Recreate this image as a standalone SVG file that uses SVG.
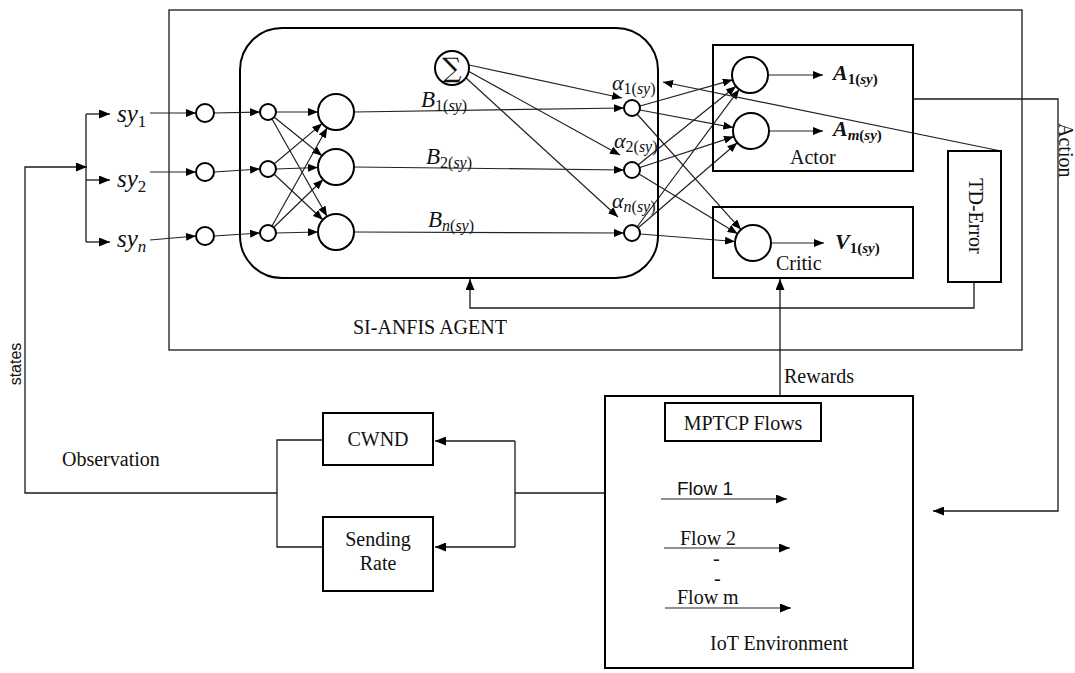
<svg xmlns="http://www.w3.org/2000/svg" width="1075" height="673" viewBox="0 0 1075 673">
<defs>
<marker id="ah" markerUnits="userSpaceOnUse" markerWidth="11" markerHeight="9" refX="11" refY="4.5" orient="auto"><path d="M0,0 L11,4.5 L0,9 z" fill="#000"/></marker>
<marker id="as" markerUnits="userSpaceOnUse" markerWidth="10" markerHeight="8" refX="10" refY="4" orient="auto"><path d="M0,0 L10,4 L0,8 z" fill="#000"/></marker>
<style>
.box{fill:#fff;stroke:#000;stroke-width:2}
.thin{fill:none;stroke:#1a1a1a;stroke-width:1.3}
.ln{fill:none;stroke:#222;stroke-width:1.2}
.nd{fill:#fff;stroke:#000;stroke-width:2}
.a{marker-end:url(#ah)}
.s{marker-end:url(#as)}
.t{font-family:"Liberation Serif",serif;font-size:20px;fill:#111}
.m{font-family:"Liberation Serif",serif;font-style:italic;fill:#111}
.mb{font-family:"Liberation Serif",serif;font-style:italic;font-weight:bold;fill:#111}
.sans{font-family:"Liberation Sans",sans-serif;fill:#111}
</style>
</defs>
<rect id="agent-frame" x="169" y="10" width="853" height="340" class="thin"/>
<g id="connectors">
<polyline class="thin a" points="277,493 25,493 25,167 87,167"/>
<line class="thin" x1="86" y1="114" x2="86" y2="242"/>
<line class="thin a" x1="86" y1="114" x2="110" y2="114"/>
<line class="thin a" x1="86" y1="180" x2="110" y2="180"/>
<line class="thin a" x1="86" y1="242" x2="110" y2="242"/>
<line class="ln s" x1="150" y1="113" x2="196" y2="113"/>
<line class="ln s" x1="150" y1="172" x2="196" y2="172"/>
<line class="ln s" x1="150" y1="240" x2="196" y2="236"/>
<line class="ln s" x1="214" y1="113" x2="260" y2="112"/>
<line class="ln s" x1="214" y1="172" x2="260" y2="169"/>
<line class="ln s" x1="214" y1="236" x2="260" y2="233"/>
<line class="ln s" x1="276" y1="112" x2="318" y2="112"/>
<line class="ln s" x1="274" y1="117" x2="322" y2="155.7"/>
<line class="ln s" x1="272" y1="119" x2="327" y2="216.3"/>
<line class="ln s" x1="274" y1="164" x2="322.2" y2="123.6"/>
<line class="ln s" x1="276" y1="169" x2="318" y2="167.5"/>
<line class="ln s" x1="274" y1="174" x2="322.8" y2="219.8"/>
<line class="ln s" x1="272" y1="226" x2="327.2" y2="127.7"/>
<line class="ln s" x1="274" y1="227" x2="323.1" y2="179.5"/>
<line class="ln s" x1="276" y1="233" x2="318" y2="232"/>
<line class="ln s" x1="354" y1="112" x2="624" y2="108"/>
<line class="ln s" x1="354" y1="167" x2="624" y2="170"/>
<line class="ln s" x1="354" y1="232" x2="624" y2="233"/>
<line class="ln s" x1="469" y1="65" x2="622" y2="98"/>
<line class="ln s" x1="468" y1="71" x2="620" y2="155"/>
<line class="ln s" x1="465" y1="77" x2="618" y2="217"/>
<line class="ln s" x1="640" y1="106" x2="732.7" y2="79.8"/>
<line class="ln s" x1="640" y1="110" x2="733.3" y2="127.6"/>
<line class="ln s" x1="637" y1="114" x2="741" y2="229.6"/>
<line class="ln s" x1="638" y1="165" x2="736" y2="86.3"/>
<line class="ln s" x1="640" y1="167.5" x2="733.9" y2="136.6"/>
<line class="ln s" x1="639" y1="174" x2="737.6" y2="233.7"/>
<line class="ln s" x1="637" y1="227" x2="739.2" y2="89.4"/>
<line class="ln s" x1="638" y1="228" x2="737.3" y2="142.7"/>
<line class="ln s" x1="640" y1="234" x2="735" y2="241.5"/>
<line class="ln s" x1="768" y1="75" x2="823" y2="75"/>
<line class="ln s" x1="769" y1="131" x2="823" y2="131"/>
<line class="ln s" x1="771" y1="243" x2="824" y2="243"/>
<line class="ln s" x1="1001" y1="151" x2="663" y2="82"/>
<polyline class="thin a" points="974,282 974,308 470,308 470,279"/>
<polyline class="thin a" points="913,99 1058,99 1058,511 933,511"/>
<line class="thin a" x1="780" y1="396" x2="780" y2="279"/>
<line class="thin" x1="605" y1="493" x2="515" y2="493"/>
<line class="thin" x1="515" y1="441" x2="515" y2="547"/>
<line class="thin a" x1="515" y1="441" x2="435" y2="441"/>
<line class="thin a" x1="515" y1="547" x2="435" y2="547"/>
<polyline class="thin" points="323,440 277,440 277,547 323,547"/>
<line class="ln a" x1="661" y1="499" x2="787" y2="499"/>
<line class="ln a" x1="664" y1="548" x2="790" y2="548"/>
<line class="ln a" x1="665" y1="608" x2="791" y2="608"/>
</g>
<g id="anfis">
<rect x="240" y="28" width="418" height="250" rx="42" ry="42" fill="none" stroke="#000" stroke-width="2"/>
</g>
<g id="inputs">
<circle class="nd" cx="205" cy="113" r="9"/>
<circle class="nd" cx="205" cy="172" r="9"/>
<circle class="nd" cx="205" cy="236" r="9"/>
<text class="m" x="117" y="122" font-size="25">sy<tspan font-size="17" font-style="normal" dy="5">1</tspan></text>
<text class="m" x="117" y="187" font-size="25">sy<tspan font-size="17" font-style="normal" dy="5">2</tspan></text>
<text class="m" x="117" y="247" font-size="25">sy<tspan font-size="17" dy="5">n</tspan></text>
</g>
<g id="layer1">
<circle class="nd" cx="268" cy="112" r="8"/>
<circle class="nd" cx="268" cy="169" r="8"/>
<circle class="nd" cx="268" cy="233" r="8"/>
</g>
<g id="layer2">
<circle class="nd" cx="336" cy="112" r="18"/>
<circle class="nd" cx="336" cy="167" r="18"/>
<circle class="nd" cx="336" cy="232" r="18"/>
<text class="m" x="421" y="107" font-size="23">B<tspan font-size="16" dy="4"><tspan font-style="normal">1(</tspan>sy<tspan font-style="normal">)</tspan></tspan></text>
<text class="m" x="426" y="164" font-size="23">B<tspan font-size="16" dy="4"><tspan font-style="normal">2(</tspan>sy<tspan font-style="normal">)</tspan></tspan></text>
<text class="m" x="428" y="227" font-size="23">B<tspan font-size="16" dy="4">n<tspan font-style="normal">(</tspan>sy<tspan font-style="normal">)</tspan></tspan></text>
</g>
<g id="sigma">
<circle class="nd" cx="452" cy="68" r="17"/>
<text x="452" y="77" text-anchor="middle" font-family="DejaVu Serif,serif" font-size="27" fill="#111">∑</text>
</g>
<g id="alpha">
<circle class="nd" cx="632" cy="108" r="8"/>
<circle class="nd" cx="632" cy="170" r="8"/>
<circle class="nd" cx="632" cy="233" r="8"/>
<text class="m" x="612" y="90" font-size="22">α<tspan font-size="16" dy="4"><tspan font-style="normal">1(</tspan>sy<tspan font-style="normal">)</tspan></tspan></text>
<text class="m" x="614" y="148" font-size="22">α<tspan font-size="16" dy="4"><tspan font-style="normal">2(</tspan>sy<tspan font-style="normal">)</tspan></tspan></text>
<text class="m" x="612" y="208" font-size="22">α<tspan font-size="16" dy="4">n<tspan font-style="normal">(</tspan>sy<tspan font-style="normal">)</tspan></tspan></text>
</g>
<g id="actor">
<rect class="box" x="713" y="45" width="200" height="126" style="fill:none"/>
<circle class="nd" cx="750" cy="75" r="18"/>
<circle class="nd" cx="751" cy="131" r="18"/>
<text class="mb" x="833" y="80" font-size="22">A<tspan font-size="15" dy="4"><tspan font-style="normal">1(</tspan>sy<tspan font-style="normal">)</tspan></tspan></text>
<text class="mb" x="833" y="136" font-size="22">A<tspan font-size="15" dy="4">m<tspan font-style="normal">(</tspan>sy<tspan font-style="normal">)</tspan></tspan></text>
<text class="t" x="790" y="164">Actor</text>
</g>
<g id="critic">
<rect class="box" x="713" y="207" width="200" height="71" style="fill:none"/>
<circle class="nd" cx="753" cy="243" r="18"/>
<text class="mb" x="835" y="249" font-size="22">V<tspan font-size="15" dy="4"><tspan font-style="normal">1(</tspan>sy<tspan font-style="normal">)</tspan></tspan></text>
<text class="t" x="776" y="270">Critic</text>
</g>
<g id="td-error">
<rect class="box" x="948" y="151" width="53" height="131"/>
<text class="t" font-size="16" text-anchor="middle" transform="translate(969,216) rotate(90)">TD-Error</text>
</g>
<text class="t" x="353" y="334">SI-ANFIS AGENT</text>
<text class="t" x="784" y="383">Rewards</text>
<text class="t" font-size="19" transform="translate(1059,123) rotate(90)">Action</text>
<text class="sans" font-size="16" text-anchor="middle" transform="translate(21,364) rotate(-90)">states</text>
<text class="t" x="62" y="466">Observation</text>
<g id="cwnd">
<rect class="box" x="323" y="413" width="110" height="52"/>
<text class="t" x="378" y="446" text-anchor="middle">CWND</text>
</g>
<g id="sending-rate">
<rect class="box" x="323" y="517" width="110" height="74"/>
<text class="t" x="378" y="546" text-anchor="middle">Sending</text>
<text class="t" x="378" y="570" text-anchor="middle">Rate</text>
</g>
<g id="environment">
<rect class="box" x="605" y="396" width="308" height="272" style="fill:none"/>
<rect class="box" x="665" y="403" width="156" height="38"/>
<text class="t" x="743" y="430" text-anchor="middle">MPTCP Flows</text>
<text class="sans" x="677" y="495" font-size="19">Flow 1</text>
<text class="t" x="680" y="545">Flow 2</text>
<text class="t" x="713" y="565" font-size="15">-</text>
<text class="t" x="677" y="604">Flow m</text>
<text class="t" x="714" y="585" font-size="15">-</text>
<text class="t" x="710" y="650">IoT Environment</text>
</g>
</svg>
